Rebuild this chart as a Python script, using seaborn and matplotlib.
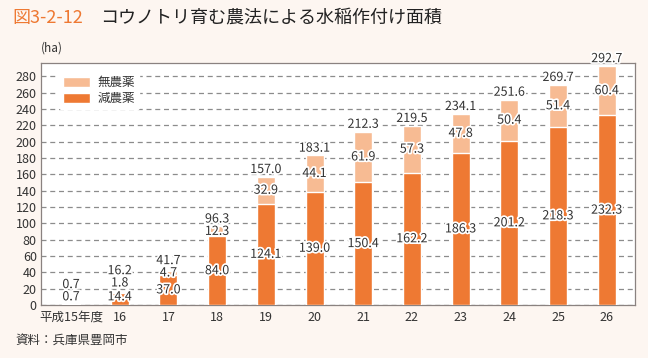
import matplotlib
matplotlib.use("Agg")
import matplotlib.pyplot as plt
import matplotlib.patheffects as pe
from matplotlib.patches import Patch
import seaborn as sns
import pandas as pd

years = ["平成15年度", "16", "17", "18", "19", "20", "21", "22", "23", "24", "25", "26"]
reduced = [0.7, 14.4, 37.0, 84.0, 124.1, 139.0, 150.4, 162.2, 186.3, 201.2, 218.3, 232.3]
organic = [0.0, 1.8, 4.7, 12.3, 32.9, 44.1, 61.9, 57.3, 47.8, 50.4, 51.4, 60.4]
totals = [0.7, 16.2, 41.7, 96.3, 157.0, 183.1, 212.3, 219.5, 234.1, 251.6, 269.7, 292.7]

DARK = "#ee7933"
LIGHT = "#f7bb93"
BG = "#fdf6f1"
TXT = "#333333"

sns.set_theme(style="white")
plt.rcParams["font.family"] = ["Noto Sans CJK JP", "DejaVu Sans"]

df = pd.DataFrame({"year": years, "reduced": reduced, "organic": organic, "total": totals})

fig = plt.figure(figsize=(6.48, 3.58), dpi=100, facecolor=BG)
ax = fig.add_axes([41 / 648, 1 - 305 / 358, (635 - 41) / 648, (305 - 62.5) / 358])
ax.set_facecolor("white")

sns.barplot(data=df, x="year", y="total", color=LIGHT, width=0.37, ax=ax,
            saturation=1, order=years, zorder=3)
sns.barplot(data=df, x="year", y="reduced", color=DARK, width=0.37, ax=ax,
            saturation=1, order=years, zorder=3)

ax.set_ylim(0, 297)
ax.set_xlim(-0.616, 11.58)
ax.set_yticks(range(0, 281, 20))
ax.yaxis.grid(True, linestyle=(0, (4, 3)), color="#8c8c8c", linewidth=0.9, zorder=0)
ax.set_axisbelow(True)
ax.set_xlabel("")
ax.set_ylabel("")
for s in ax.spines.values():
    s.set_color("#8a8280")
    s.set_linewidth(0.9)
ax.tick_params(axis="both", length=0, labelsize=9, colors=TXT, pad=3)
ax.tick_params(axis="x", pad=4)

stroke = [pe.withStroke(linewidth=2.5, foreground="white")]
for i in range(len(years)):
    r, o, t = reduced[i], organic[i], totals[i]
    y_red = max(r / 2, 10)
    ax.text(i, y_red, f"{r:.1f}", ha="center", va="center", fontsize=9,
            color=TXT, path_effects=stroke, zorder=5)
    y_prev = y_red
    if o > 0:
        y_no = max(r + o / 2, y_red + 17)
        ax.text(i, y_no, f"{o:.1f}", ha="center", va="center", fontsize=9,
                color=TXT, path_effects=stroke, zorder=5)
        y_prev = y_no
    y_tot = max(t + 9, y_prev + 15)
    ax.text(i, y_tot, f"{t:.1f}", ha="center", va="center", fontsize=9,
            color=TXT, path_effects=stroke, zorder=5)

handles = [Patch(facecolor=LIGHT, label="無農薬"), Patch(facecolor=DARK, label="減農薬")]
leg = ax.legend(handles=handles, loc="upper left", bbox_to_anchor=(0.02, 0.985),
                frameon=True, fontsize=9, handlelength=2.2, handleheight=0.9,
                handletextpad=0.6, labelspacing=0.25, borderpad=0.3)
leg.get_frame().set_facecolor("white")
leg.get_frame().set_edgecolor("white")
leg.get_frame().set_alpha(1)
for tx in leg.get_texts():
    tx.set_color(TXT)

fig.text(12 / 648, 1 - 18 / 358, "図3-2-12", fontsize=13, color=DARK, va="center", ha="left")
fig.text(100 / 648, 1 - 18 / 358, "コウノトリ育む農法による水稲作付け面積", fontsize=13,
         color="#222222", va="center", ha="left")
fig.text(41 / 648, 1 - 48 / 358, "(ha)", fontsize=8.5, color=TXT, va="center", ha="left")
fig.text(15 / 648, 1 - 340 / 358, "資料：兵庫県豊岡市", fontsize=9, color=TXT, va="center", ha="left")

fig.savefig("out.png", dpi=100, facecolor=BG)
